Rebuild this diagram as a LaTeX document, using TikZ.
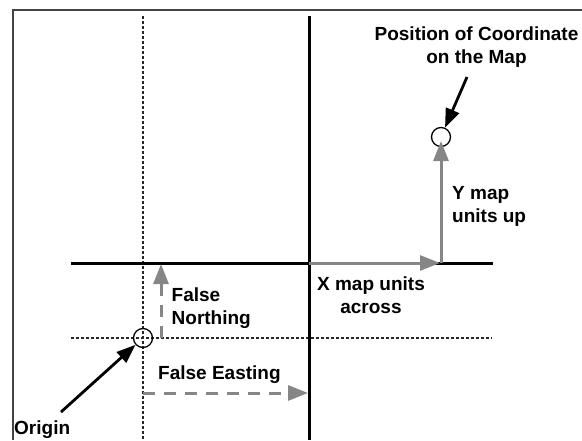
\documentclass[tikz,border=0pt]{standalone}
\usepackage{fontspec}
\setmainfont{Liberation Sans}
\usetikzlibrary{arrows.meta}
\definecolor{offsetgray}{HTML}{868686}
\definecolor{framegray}{HTML}{444444}
\begin{document}
\begin{tikzpicture}[x=1pt,y=-1pt,
        maptext/.style={font=\bfseries\fontsize{19}{23}\selectfont, inner sep=0pt},
        mainline/.style={line width=3pt},
        guideline/.style={line width=1.2pt, dash pattern=on 3pt off 2pt, color=black!85},
        offsetarrow/.style={offsetgray, line width=3pt, -{Triangle[length=20pt,width=15pt]}},
        pointer/.style={line width=2.8pt, -{Triangle[length=19pt,width=14pt]}},
        spot/.style={circle, draw, line width=1.3pt, minimum size=19pt, inner sep=0pt}]
        \useasboundingbox (0,0) rectangle (582,440);
        % frame
        \draw[framegray, line width=2pt] (12.5,440) -- (12.5,10) -- (582,10);
        % grid lines
        \draw[guideline] (143,16) -- (143,440);
        \draw[guideline] (71,338) -- (492,338);
        \draw[mainline] (309,16) -- (309,440);
        \draw[mainline] (71,263) -- (493,263);
        % points
        \node[spot] (origin) at (143,338) {};
        \node[spot] (point) at (441,137) {};
        % offsets
        \coordinate (north) at (161,338);
        \coordinate (northend) at (161,264);
        \coordinate (east) at (143,393);
        \coordinate (eastend) at (308,393);
        \coordinate (cross) at (309,263);
        \coordinate (corner) at (441,263);
        \draw[offsetarrow, dash pattern=on 12pt off 9pt] (north) -- (northend);
        \draw[offsetarrow, dash pattern=on 12pt off 9pt] (east) -- (eastend);
        \draw[offsetarrow, shorten >=1pt] (cross) -- (corner);
        \draw[offsetarrow, shorten >=4pt] (corner) -- (point.center);
        % pointers
        \coordinate (origintail) at (61,412);
        \coordinate (pointtail) at (467,77);
        \draw[pointer] (origintail) -- (origin);
        \draw[pointer] (pointtail) -- (point);
        % labels (base = last line)
        \node[maptext, anchor=base, align=center] (pointlabel) at (476.5,63) {Position of Coordinate\\on the Map};
        \node[maptext, anchor=base west, align=left] (northlabel) at (171.5,324) {False\\Northing};
        \node[maptext, anchor=base, align=center] (xlabel) at (371,313) {X map units\\across};
        \node[maptext, anchor=base west, align=left] (ylabel) at (452,222) {Y map\\units up};
        \node[maptext, anchor=base west] (eastlabel) at (158,379) {False Easting};
        \node[maptext, anchor=base west] (originlabel) at (14,434) {Origin};
    \end{tikzpicture}
\end{document}
